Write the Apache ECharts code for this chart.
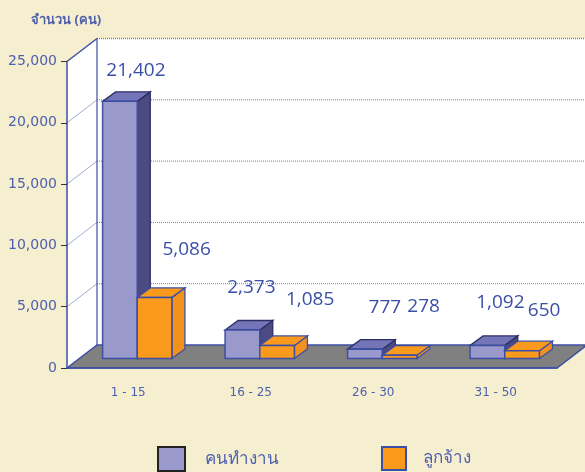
<!DOCTYPE html>
<html>
<head>
<meta charset="utf-8">
<script src="https://cdn.jsdelivr.net/npm/echarts@6/dist/echarts.min.js"></script>
<style>
  html, body { margin: 0; background: #f5efd0; }
  #chart { width: 585px; height: 472px; }
</style>
</head>
<body>
<div id="chart"></div>
<script>
const categories = ['1 - 15', '16 - 25', '26 - 30', '31 - 50'];
const workers = [21402, 2373, 777, 1092];   // คนทำงาน
const employees = [5086, 1085, 278, 650];   // ลูกจ้าง
const yMax = 25000;
const yStep = 5000;

// label nudges (px) from each bar's top, the way the original placed them
const workerLabelShift = [[16, -31], [9, -42], [20, -42], [13, -43]];
const employeeLabelShift = [[32, -48], [33, -46], [24, -49], [22, -40]];

// fake 3D geometry
const WALL_DX = 30, WALL_DY = -23;
const BAR_FX = 9, BAR_FY = -9.5;
const BAR_DX = 13, BAR_DY = -9.5;
const BAR_FRAC = 0.283;

const BLUE = '#3c4fa5';
const TEXT = '#4d5fb0';
const LABEL = '#3a4fa8';

function wallRenderer(params, api) {
  const cs = params.coordSys;
  const L = cs.x, T = cs.y, R = cs.x + cs.width, B = cs.y + cs.height;
  const kids = [
    { type: 'polygon', shape: { points: [[L, B], [L, T], [L + WALL_DX, T + WALL_DY], [L + WALL_DX, B + WALL_DY]] },
      style: { fill: '#fff', stroke: null } },
    { type: 'rect', shape: { x: L + WALL_DX, y: T + WALL_DY, width: cs.width, height: cs.height },
      style: { fill: '#fff', stroke: null } }
  ];
  for (let v = yStep; v <= yMax; v += yStep) {
    const y = api.coord([0, v])[1];
    kids.push({ type: 'line', shape: { x1: L + WALL_DX, y1: y + WALL_DY, x2: R + WALL_DX, y2: y + WALL_DY },
      style: { stroke: '#7a80a8', lineWidth: v === yMax ? 1.5 : 1, lineDash: [1, 1] } });
    kids.push({ type: 'line', shape: { x1: L, y1: y, x2: L + WALL_DX, y2: y + WALL_DY },
      style: { stroke: v === yMax ? BLUE : '#8b93c4', lineWidth: v === yMax ? 1.5 : 0.8 } });
  }
  kids.push({ type: 'line', shape: { x1: L + WALL_DX, y1: T + WALL_DY, x2: L + WALL_DX, y2: B + WALL_DY },
    style: { stroke: BLUE, lineWidth: 1.2 } });
  kids.push({ type: 'polygon', shape: { points: [[L, B], [R, B], [R + WALL_DX, B + WALL_DY], [L + WALL_DX, B + WALL_DY]] },
    style: { fill: '#808080', stroke: BLUE, lineWidth: 1.5 } });
  return { type: 'group', children: kids };
}

function barRenderer(side, front, top, flank, edge, shifts) {
  return function (params, api) {
    const i = api.value(0);
    const v = api.value(1);
    const base = api.coord([i, 0]);
    const peak = api.coord([i, v]);
    const w = api.size([1, 0])[0] * BAR_FRAC;
    const h = (base[1] - peak[1]) * 0.98;
    const x0 = base[0] + BAR_FX + (side < 0 ? -w : 0);
    const x1 = x0 + w;
    const yb = base[1] + BAR_FY;
    const yt = yb - h;
    const sh = shifts[params.dataIndex];
    return {
      type: 'group',
      children: [
        { type: 'polygon', shape: { points: [[x1, yt], [x1, yb], [x1 + BAR_DX, yb + BAR_DY], [x1 + BAR_DX, yt + BAR_DY]] },
          style: { fill: flank, stroke: edge, lineWidth: 1.3 } },
        { type: 'polygon', shape: { points: [[x0, yt], [x1, yt], [x1 + BAR_DX, yt + BAR_DY], [x0 + BAR_DX, yt + BAR_DY]] },
          style: { fill: top, stroke: edge, lineWidth: 1.3 } },
        { type: 'rect', shape: { x: x0, y: yt, width: w, height: h },
          style: { fill: front, stroke: BLUE, lineWidth: 1.5 } },
        { type: 'text', x: (x0 + x1) / 2 + sh[0], y: yt + sh[1],
          style: { text: echarts.format.addCommas(v), fill: LABEL, font: '19px "Open Sans", sans-serif',
                   align: 'center', verticalAlign: 'middle' } }
      ]
    };
  };
}

const chart = echarts.init(document.getElementById('chart'));
chart.setOption({
  backgroundColor: '#f5efd0',
  animation: false,
  title: {
    text: 'จำนวน (คน)', left: 26, top: 9,
    textStyle: { fontSize: 13, fontWeight: 'bold', color: '#5060a8', fontFamily: 'Noto Sans, DejaVu Sans, sans-serif' }
  },
  legend: [
    { data: [{ name: 'คนทำงาน', icon: 'rect', itemStyle: { color: '#9999cc', borderColor: '#222', borderWidth: 2 } }],
      left: 157, top: 446, padding: 0, itemWidth: 27, itemHeight: 24, selectedMode: false,
      textStyle: { fontSize: 17, color: TEXT, padding: [10, 0, 0, 15], fontFamily: 'Noto Sans, DejaVu Sans, sans-serif' } },
    { data: [{ name: 'ลูกจ้าง', icon: 'rect', itemStyle: { color: '#f99a1c', borderColor: BLUE, borderWidth: 2 } }],
      left: 381, top: 446, padding: 0, itemWidth: 24, itemHeight: 23, selectedMode: false,
      textStyle: { fontSize: 17, color: TEXT, padding: [0, 0, 0, 12], fontFamily: 'Noto Sans, DejaVu Sans, sans-serif' } }
  ],
  grid: { left: 67, right: 28, top: 61.5, bottom: 104, containLabel: false },
  xAxis: {
    type: 'category',
    data: categories,
    axisLine: { lineStyle: { color: BLUE, width: 1.5 } },
    axisTick: { length: 5, lineStyle: { color: BLUE } },
    axisLabel: { color: TEXT, fontSize: 12, fontFamily: 'DejaVu Sans', margin: 19 },
    splitLine: { show: false },
    z: 5
  },
  yAxis: {
    type: 'value',
    min: 0, max: yMax, interval: yStep,
    axisLine: { show: true, lineStyle: { color: BLUE, width: 1.5 } },
    axisTick: { show: true, length: 6, lineStyle: { color: '#333' } },
    axisLabel: { color: TEXT, fontSize: 14, fontFamily: 'DejaVu Sans', margin: 10 },
    splitLine: { show: false },
    z: 5
  },
  series: [
    { type: 'custom', silent: true, z: 1, data: [[0, 0]], renderItem: wallRenderer },
    { type: 'custom', name: 'คนทำงาน', z: 2,
      itemStyle: { color: '#9999cc' },
      data: categories.map((c, i) => [i, workers[i]]),
      renderItem: barRenderer(-1, '#9999cc', '#7474b8', '#4b4b82', '#2c2f66', workerLabelShift) },
    { type: 'custom', name: 'ลูกจ้าง', z: 3,
      itemStyle: { color: '#f99a1c' },
      data: categories.map((c, i) => [i, employees[i]]),
      renderItem: barRenderer(1, '#f99a1c', '#f99a1c', '#f2921a', BLUE, employeeLabelShift) }
  ]
});
</script>
</body>
</html>
